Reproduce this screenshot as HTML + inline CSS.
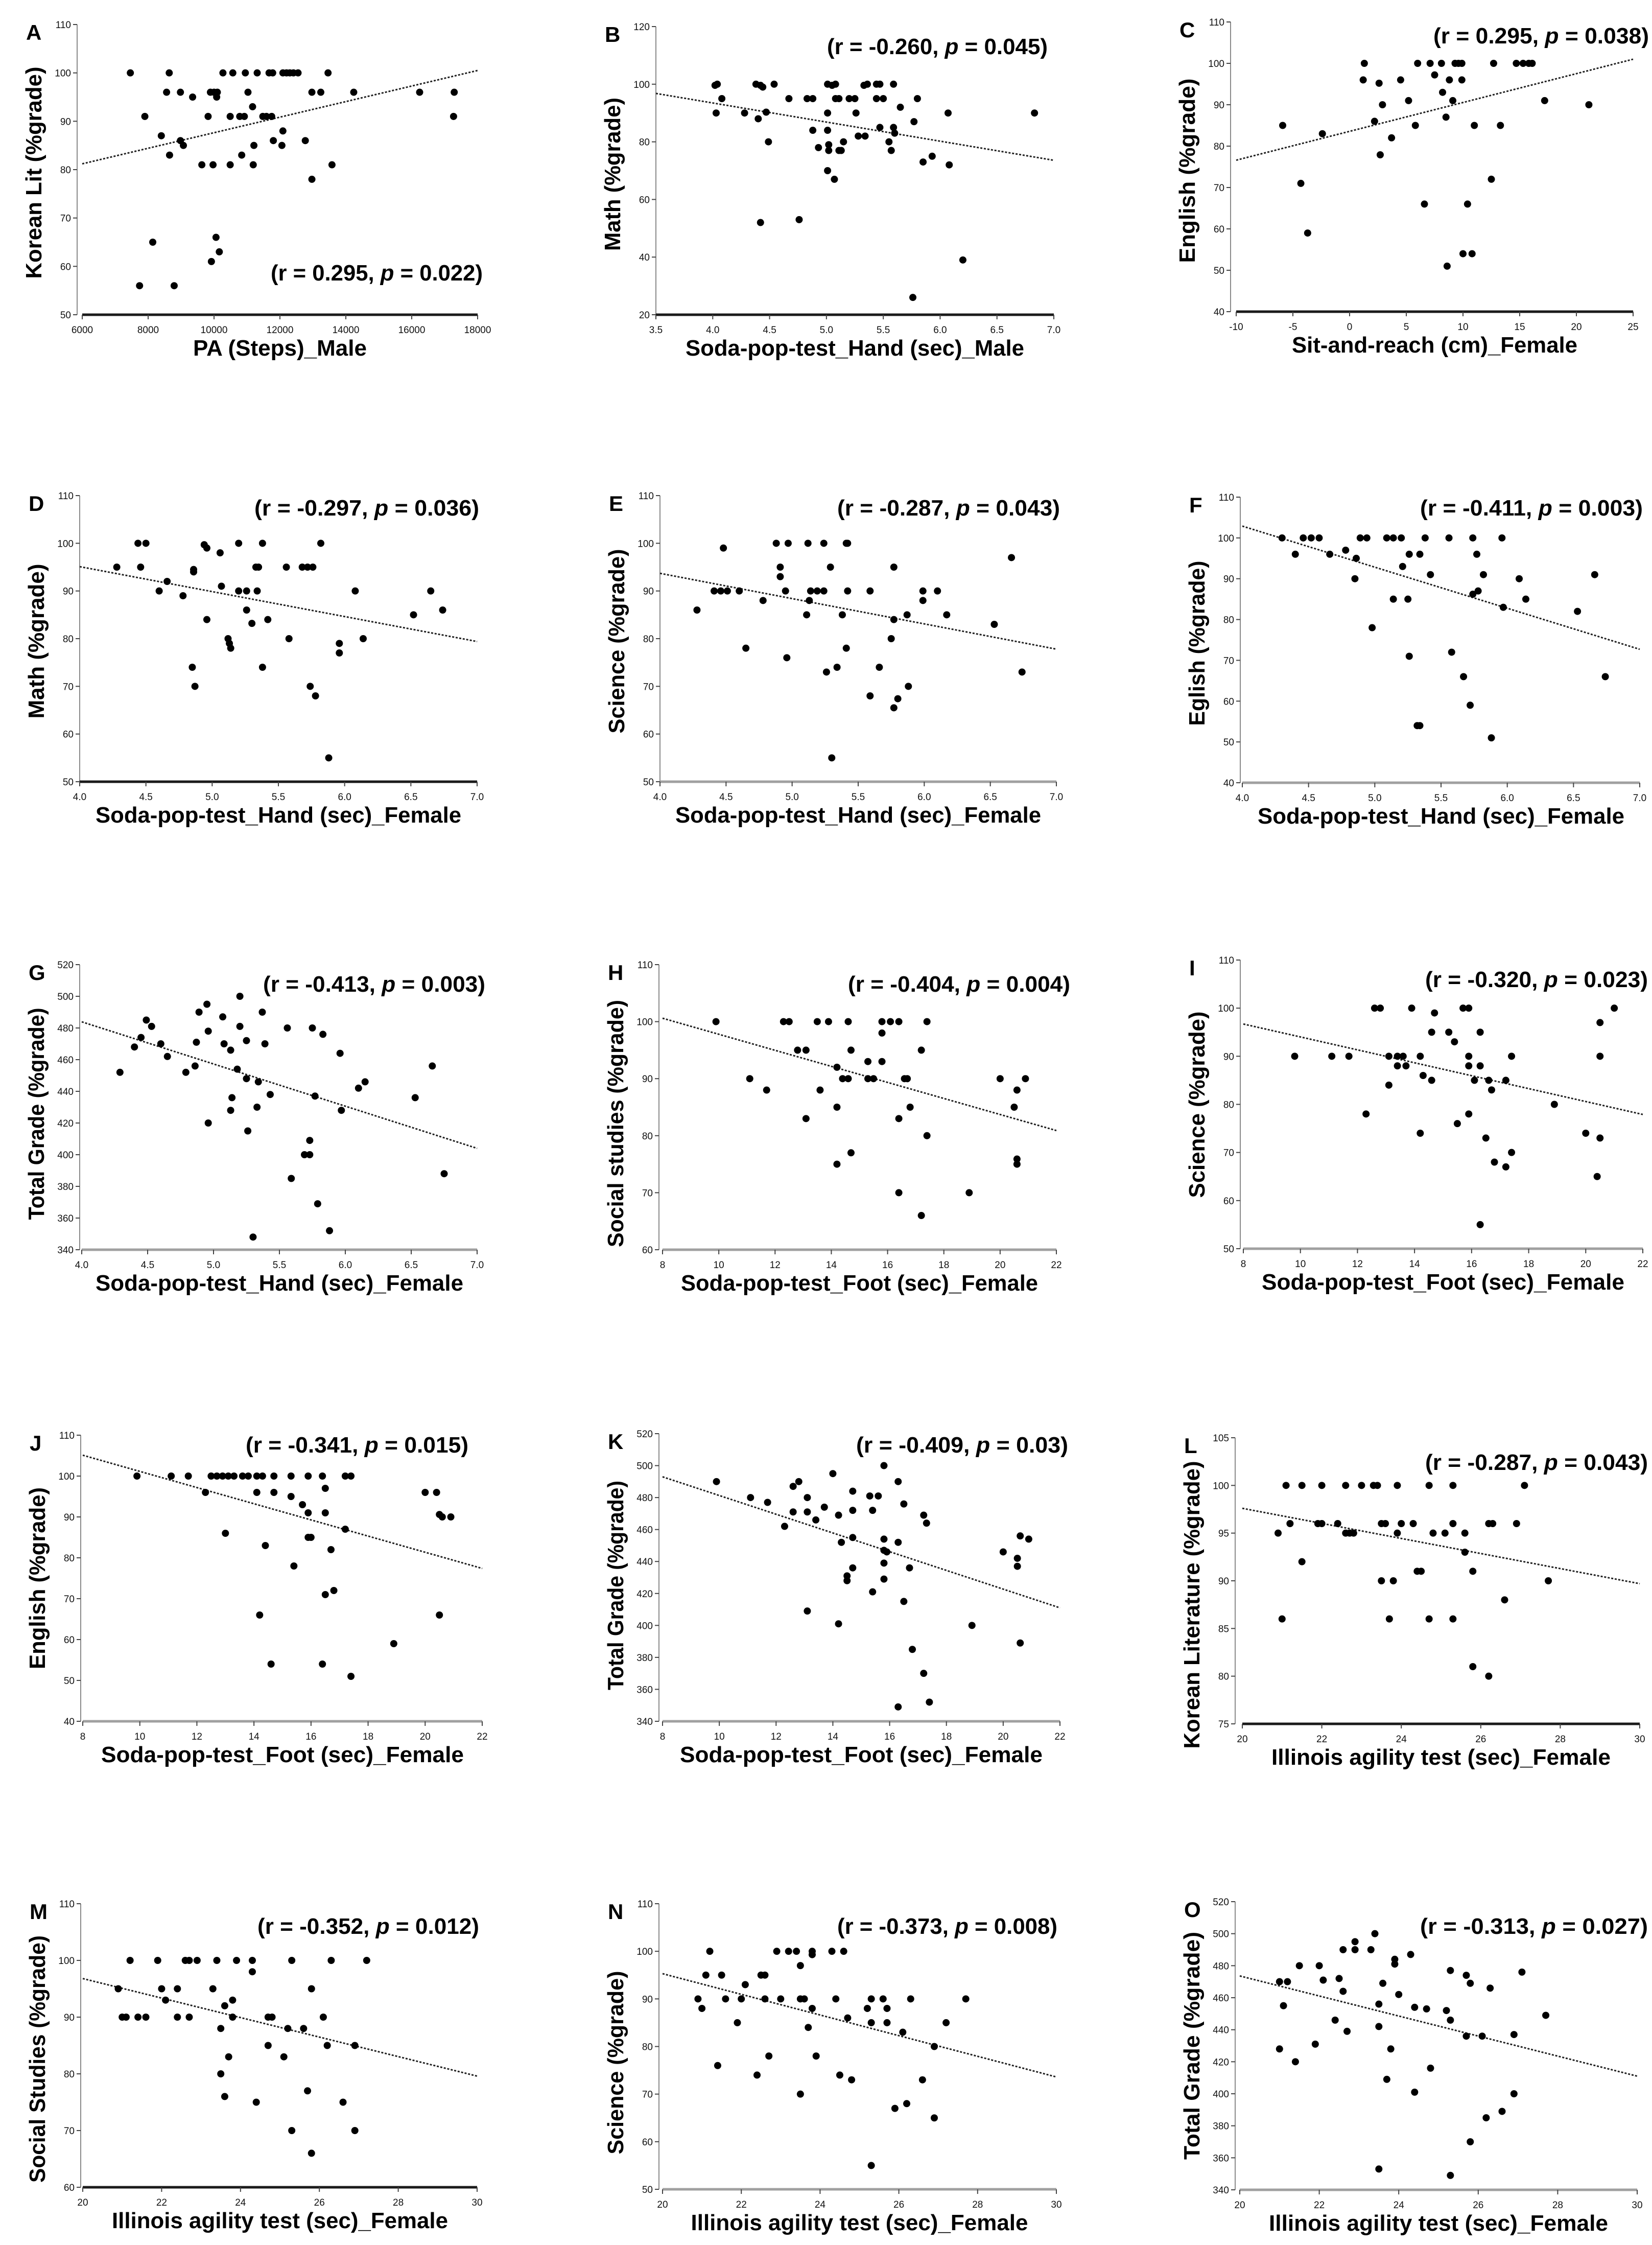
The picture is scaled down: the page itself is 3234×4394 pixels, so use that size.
<!DOCTYPE html>
<html><head><meta charset="utf-8"><style>
html,body{margin:0;padding:0;background:#fff;}
svg{display:block;font-family:"Liberation Sans",sans-serif;}
</style></head><body>
<svg id="fig" xmlns="http://www.w3.org/2000/svg" width="3234" height="4394" viewBox="0 0 3234 4394"></svg>
<script>
// ---------- DATA ----------
const xA=[7460,8640,10270,10570,10950,11310,11670,11780,12090,12200,12300,12410,12550,13460,
8560,8980,9350,9890,10000,10100,10080,11030,12970,13240,14240,16240,17290,17270,11170,
7900,9820,10490,10780,10920,11480,11590,11750,8400,12090,8980,9070,11800,12770,12060,11210,
8650,10840,9630,9970,10490,11190,13580,12970,8140,10060,10160,9920,7740,8790];
const yA=[100,100,100,100,100,100,100,100,100,100,100,100,100,100,
96,96,95,96,96,96,95,96,96,96,96,96,96,91,93,
91,91,91,91,91,91,91,91,87,88,86,85,86,86,85,85,
83,83,81,81,81,81,81,78,65,66,63,61,56,56];
const trendA=[81.2,100.5];

const xB=[4.02,4.04,4.38,4.42,4.44,4.54,4.08,4.03,4.28,4.47,4.40,4.67,4.83,4.88,5.01,5.05,5.08,5.08,5.11,5.20,5.25,5.01,5.26,5.33,5.36,5.44,5.47,5.59,5.44,5.50,5.80,5.65,6.07,6.83,5.77,4.88,5.01,5.47,5.59,5.60,5.28,5.34,4.49,5.02,5.15,5.55,4.93,5.02,5.11,5.13,5.57,5.85,5.93,6.08,5.01,5.07,4.42,4.76,6.20,5.76];
const yB=[99.6,100,100,99.6,99,100,95,90,90,90.3,88,95,95,95,100,99.6,100,95,95,95,95,90,90,99.6,100,100,100,100,95,95,95,92,90,90,87,84,84,85,85,83,82,82,80,79,80,80,78,77,77,77,77,73,75,72,70,67,52,53,39,26];
const trendB=[96.8,73.6];

const xC=[1.3,6.0,7.1,8.1,9.3,9.6,9.9,12.7,14.7,15.3,15.8,16.1,
1.2,2.6,4.5,7.5,8.8,9.9, 8.2,5.2,2.9,9.1,17.2,21.1, -5.9,2.2,5.8,8.5,11.0,13.3,
-2.4,3.7, 2.7, -4.3,12.5, 6.6,10.4, -3.7, 10.0,10.8, 8.6];
const yC=[100,100,100,100,100,100,100,100,100,100,100,100,
96,95.2,96,97.2,96,96, 93,91,90,91,91,90, 85,86,85,87,85,85,
83,82, 77.9, 71,72, 66,66, 59, 54,54, 51];
const trendC=[76.6,101];

const xD=[4.44,4.50,4.94,4.96,5.06,5.20,5.38,5.82, 4.28,4.46,4.86,4.86,5.33,5.35,5.56,5.68,5.72,5.76,
4.66,4.60,4.78,5.07,5.20,5.26,5.34,6.08,6.65, 5.26,6.74,6.52,4.96,5.42,5.30,
5.12,5.13,5.14,5.58,6.14,5.96,5.96, 4.85,5.38,4.87,5.74,5.78,5.88];
const yD=[100,100,99.7,99,98,100,100,100, 95,95,94.5,94,95,95,95,95,95,95,
92,90,89,91,90,90,90,90,90, 86,86,85,84,84,83.2,
80,79,78,80,80,79,77, 74,74,70,70,68,55];
const trendD=[95.1,79.4];

const xE=[4.48,4.88,4.97,5.12,5.24,5.41,5.42, 4.91,4.91,5.29,5.77,
4.41,4.46,4.51,4.60,4.95,5.14,5.19,5.24,5.42,5.59,5.99,6.10, 4.78,5.13,5.99,4.28,
5.11,5.38,5.87,6.17,5.77,6.53,6.66, 5.75,4.65,5.41,4.96, 5.26,5.34,5.66,6.74, 5.88,5.59,5.80,5.77,5.30];
const yE=[99,100,100,100,100,100,100, 95,93,95,95,
90,90,90,90,90,90,90,90,90,90,90,90, 88,88,88,86,
85,85,85,85,84,83,97, 80,78,78,76, 73,74,74,73, 70,68,67.4,65.5,55];
const trendE=[93.7,77.8];

const xF=[4.30,4.46,4.52,4.58,4.89,4.94,5.09,5.14,5.20,5.38,5.56,5.74,5.96,
4.40,4.66,4.78,4.86,5.26,5.34,5.77, 5.21,5.42,5.82,4.85,6.09,6.66,
5.78,5.74,5.14,5.25,6.14,5.97,6.53, 4.98,5.26,5.58,5.67,6.74,5.72,5.32,5.34,5.88];
const yF=[100,100,100,100,100,100,100,100,100,100,100,100,100,
96,96,97,95,96,96,96, 93,91,91,90,90,91,
87,86.2,85,85,85,83,82, 78,71,72,66,66,59,54,54,51];
const trendF=[102.9,72.7];

const xG=[4.29,4.40,4.45,4.49,4.53,4.60,4.65, 4.79,4.86,4.87,4.89,4.95,4.96,4.96,
5.07,5.08,5.13,5.18,5.20,5.20,5.25,5.25,5.26,5.30, 5.34,5.37,5.39,5.43,5.33,5.14,5.13,
5.56,5.75,5.83,5.77,5.96,5.97, 5.73,5.69,5.73,5.59,5.79,5.88, 6.10,6.15,6.53,6.66,6.75];
const yG=[452,468,474,485,481,470,462, 452,456,471,490,495,478,420,
487,470,466,454,481,500,472,448,415,348, 446,490,470,438,430,436,428,
480,480,476,437,464,428, 409,400,400,385,369,352, 442,446,436,456,388];
const trendG=[483.9,404];

const xH=[9.9,12.3,12.5,13.5,13.9,14.6,15.8,16.1,16.4,17.4, 15.8,12.8,13.1,14.7,17.2,15.3,15.8,14.2,
11.1,14.4,14.6,15.3,15.5,16.6,16.7,20.0,20.9, 11.7,13.6,20.6,14.2,16.8,20.5,13.1,16.4,
17.4,14.7,14.2,20.6,20.6,16.4,18.9,17.2];
const yH=[100,100,100,100,100,100,100,100,100,100, 98,95,95,95,95,93,93,92,
90,90,90,90,90,90,90,90,90, 88,88,88,85,85,85,83,83,
80,77,75,75.9,75,70,70,66];
const trendH=[100.6,80.9];

const xI=[12.6,12.8,13.9,15.7,15.9,21.0,14.7,20.5, 14.6,15.2,16.3,15.4,
9.8,11.1,11.7,13.1,13.4,13.6,14.2,15.9,17.4,20.5,
13.4,13.7,15.9,16.3,14.3,14.6,16.1,16.6,17.2,13.1,16.7,
18.9,12.3,15.9,15.5,14.2,20.0,16.5,20.5,17.4, 16.8,17.2,20.4,16.3];
const yI=[100,100,100,100,100,100,99,97, 95,95,95,93,
90,90,90,90,90,90,90,90,90,90,
88,88,88,88,86,85,85,85,85,84,83,
80,78,78,76,74,74,73,73,70, 68,67,65,55];
const trendI=[96.7,77.9];

const xJ=[9.9,11.1,11.7,12.5,12.7,12.9,13.1,13.3,13.6,13.8,14.1,14.3,14.7,15.3,15.9,16.4,17.2,17.4,
12.3,14.1,14.7,16.5,20.0,20.4,15.3,15.7,15.9,16.5,
20.5,20.6,20.9,17.2,13.0,15.9,16.0,14.4,16.7,
15.4,16.5,16.8,14.2,20.5,18.9,14.6,16.4,17.4];
const yJ=[100,100,100,100,100,100,100,100,100,100,100,100,100,100,100,100,100,100,
96,96,96,97,96,96,95,93,91,91,
90.6,90,90,87,86,85,85,83,82,
78,71,72,66,66,59,54,54,51];
const trendJ=[105.1,77.4];

const xK=[9.9,11.1,11.7,12.6,12.8,13.1,12.3,12.6,13.1,13.4,13.7,14.2,14.0,
14.7,14.7,15.3,15.4,15.6,15.8,16.3,16.5,17.2,17.3,
14.3,14.7,15.8,16.3,15.8,15.9,14.7,14.5,14.5,15.8,16.7,15.8,
15.4,16.5,13.1,14.2,18.9,20.0,20.5,20.5,20.6,20.9, 20.6,16.8,17.2,16.3,17.4];
const yK=[490,480,477,487,490,480,462,471,471,466,474,469,495,
484,472,481,472,481,500,490,476,469,464,
452,455,454,452,447,446,436,431,428,439,436,429,
421,415,409,401,400,446,442,437,456,454, 389,385,370,349,352];
const trendK=[493,411];

const xL=[21.1,21.5,22.0,22.6,23.0,23.3,23.4,23.9,24.7,25.3,27.1,
21.2,21.9,22.0,22.4,23.5,23.6,24.0,24.3,25.3,26.2,26.3,26.9,
20.9,22.6,22.7,22.8,23.9,24.8,25.1,25.6,
25.6,21.5,24.4,24.5,25.8,23.5,23.8,27.7,26.6, 21.0,23.7,24.7,25.3,25.8,26.2];
const yL=[100,100,100,100,100,100,100,100,100,100,100,
96,96,96,96,96,96,96,96,96,96,96,96,
95,95,95,95,95,95,95,95,
93,92,91,91,91,90,90,90,88, 86,86,86,86,81,80];
const trendL=[97.6,89.7];

const xM=[21.2,21.9,22.6,22.7,22.9,23.4,23.9,24.3,25.3,26.3,27.2,
24.3,20.9,22.0,22.4,23.3,25.8,22.1,23.8,23.6,
21.0,21.1,21.4,21.6,22.4,22.7,23.8,24.7,24.8,26.1,
23.5,25.2,25.6,24.7,26.2,26.9,23.7,25.1,23.5,25.7, 23.6,24.4,26.6,25.3,26.9,25.8];
const yM=[100,100,100,100,100,100,100,100,100,100,100,
98,95,95,95,95,95,93,93,92,
90,90,90,90,90,90,90,90,90,90,
88,88,88,85,85,85,83,83,80,77, 76,75,75,70,70,66];
const trendM=[96.8,79.6];

const xN=[21.2,22.9,23.2,23.4,23.8,23.8,24.3,24.6,23.5, 21.1,21.5,22.5,22.6,22.1,
20.9,21.6,22.0,22.6,23.0,23.5,23.6,24.4,25.3,25.6,26.3,27.7,
21.0,23.8,25.2,25.7,24.7,21.9,25.3,25.7,27.2,23.7,26.1,
26.9,22.7,23.9,21.4,22.4,24.5,24.8,26.6, 23.5,26.2,25.9,26.9,25.3];
const yN=[100,100,100,100,99.3,100,100,100,97, 95,95,95,95,93,
90,90,90,90,90,90,90,90,90,90,90,90,
88,88,88,88,86,85,85,85,85,84,83,
80,78,78,76,74,74,73,73, 70,68,67,65,55];
const trendN=[95.3,73.6];

const xO=[23.4,22.9,22.6,22.9,23.3,24.3,21.5,22.0,23.9,23.9,
25.3,27.1,25.7,25.8,26.3,21.0,21.2,22.1,22.5,23.6,
22.6,24.0,21.1,23.5,24.4,24.7,25.2,22.4,23.5,25.3,
22.7,25.7,26.1,26.9,27.7,21.0,21.9,23.8,21.4,24.8,
23.7,24.4,26.9,26.2,26.6,25.8,23.5,25.3];
const yO=[500,495,490,490,490,487,480,480,484,481,
477,476,474,469,466,470,470,471,472,469,
464,462,455,456,454,453,452,446,442,446,
439,436,436,437,449,428,431,428,420,416,
409,401,400,385,389,370,353,349];
const trendO=[473.6,411];

// tick label arrays
const ticksA_x=[6000,8000,10000,12000,14000,16000,18000];
const ticksA_y=[50,60,70,80,90,100,110];
const ticksB_x=["3.5","4.0","4.5","5.0","5.5","6.0","6.5","7.0"];
const ticksB_y=[20,40,60,80,100,120];
const ticksC_x=[-10,-5,0,5,10,15,20,25];
const ticksC_y=[40,50,60,70,80,90,100,110];
const ticksHand_x=["4.0","4.5","5.0","5.5","6.0","6.5","7.0"];
const ticksFoot_x=[8,10,12,14,16,18,20,22];
const ticksAgil_x=[20,22,24,26,28,30];
const ticks50_110=[50,60,70,80,90,100,110];
const ticks40_110=[40,50,60,70,80,90,100,110];
const ticks60_110=[60,70,80,90,100,110];
const ticksTotal=[340,360,380,400,420,440,460,480,500,520];
const ticksL_y=[75,80,85,90,95,100,105];

// ---------- LAYOUT ----------
const panels=[
 {id:'A',xs:xA,ys:yA,tr:trendA,xt:ticksA_x,yt:ticksA_y,x0:161,x1:935,yT:48,yB:616,ax:151,dark:1,ytc:338,
  xTitle:'PA (Steps)_Male',xw:340,yTitle:'Korean Lit (%grade)',yw:415,ann:['0.295','0.022'],aR:945,aY:534,aW:415},
 {id:'B',xs:xB,ys:yB,tr:trendB,xt:ticksB_x,yt:ticksB_y,x0:1284,x1:2063,yT:52,yB:616,ax:1284,dark:1,ytc:341,
  xTitle:'Soda-pop-test_Hand (sec)_Male',xw:663,yTitle:'Math (%grade)',yw:300,ann:['-0.260','0.045'],aR:2051,aY:91,aW:432},
 {id:'C',xs:xC,ys:yC,tr:trendC,xt:ticksC_x,yt:ticksC_y,x0:2420,x1:3197,yT:43,yB:610,ax:2409,dark:1,ytc:334,
  xTitle:'Sit-and-reach (cm)_Female',xw:559,yTitle:'English (%grade)',yw:361,ann:['0.295','0.038'],aR:3228,aY:70,aW:422},
 {id:'D',xs:xD,ys:yD,tr:trendD,xt:ticksHand_x,yt:ticks50_110,x0:156,x1:934,yT:970,yB:1530,ax:156,dark:1,ytc:1255,
  xTitle:'Soda-pop-test_Hand (sec)_Female',xw:716,yTitle:'Math (%grade)',yw:303,ann:['-0.297','0.036'],aR:938,aY:994,aW:440},
 {id:'E',xs:xE,ys:yE,tr:trendE,xt:ticksHand_x,yt:ticks50_110,x0:1292,x1:2068,yT:970,yB:1530,ax:1292,dark:0,ytc:1255,
  xTitle:'Soda-pop-test_Hand (sec)_Female',xw:716,yTitle:'Science (%grade)',yw:361,ann:['-0.287','0.043'],aR:2075,aY:994,aW:436},
 {id:'F',xs:xF,ys:yF,tr:trendF,xt:ticksHand_x,yt:ticks40_110,x0:2432,x1:3210,yT:973,yB:1532,ax:2428,dark:0,ytc:1259,
  xTitle:'Soda-pop-test_Hand (sec)_Female',xw:718,yTitle:'Eglish (%grade)',yw:323,ann:['-0.411','0.003'],aR:3216,aY:994,aW:436},
 {id:'G',xs:xG,ys:yG,tr:trendG,xt:ticksHand_x,yt:ticksTotal,x0:160,x1:934,yT:1888,yB:2446,ax:156,dark:0,ytc:2180,
  xTitle:'Soda-pop-test_Hand (sec)_Female',xw:720,yTitle:'Total Grade (%grade)',yw:415,ann:['-0.413','0.003'],aR:950,aY:1926,aW:435},
 {id:'H',xs:xH,ys:yH,tr:trendH,xt:ticksFoot_x,yt:ticks60_110,x0:1297,x1:2068,yT:1888,yB:2446,ax:1290,dark:0,ytc:2199,
  xTitle:'Soda-pop-test_Foot (sec)_Female',xw:699,yTitle:'Social studies (%grade)',yw:484,ann:['-0.404','0.004'],aR:2095,aY:1926,aW:435},
 {id:'I',xs:xI,ys:yI,tr:trendI,xt:ticksFoot_x,yt:ticks50_110,x0:2434,x1:3216,yT:1879,yB:2444,ax:2428,dark:0,ytc:2162,
  xTitle:'Soda-pop-test_Foot (sec)_Female',xw:710,yTitle:'Science (%grade)',yw:365,ann:['-0.320','0.023'],aR:3226,aY:1917,aW:436},
 {id:'J',xs:xJ,ys:yJ,tr:trendJ,xt:ticksFoot_x,yt:ticks40_110,x0:162,x1:944,yT:2809,yB:3369,ax:158,dark:0,ytc:3089,
  xTitle:'Soda-pop-test_Foot (sec)_Female',xw:710,yTitle:'English (%grade)',yw:356,ann:['-0.341','0.015'],aR:917,aY:2828,aW:436},
 {id:'K',xs:xK,ys:yK,tr:trendK,xt:ticksFoot_x,yt:ticksTotal,x0:1297,x1:2075,yT:2806,yB:3369,ax:1290,dark:0,ytc:3103,
  xTitle:'Soda-pop-test_Foot (sec)_Female',xw:710,yTitle:'Total Grade (%grade)',yw:410,ann:['-0.409','0.03'],aR:2091,aY:2828,aW:415},
 {id:'L',xs:xL,ys:yL,tr:trendL,xt:ticksAgil_x,yt:ticksL_y,x0:2432,x1:3210,yT:2814,yB:3374,ax:2418,dark:1,ytc:3141,
  xTitle:'Illinois agility test (sec)_Female',xw:664,yTitle:'Korean Literature (%grade)',yw:563,ann:['-0.287','0.043'],aR:3226,aY:2862,aW:436},
 {id:'M',xs:xM,ys:yM,tr:trendM,xt:ticksAgil_x,yt:ticks60_110,x0:162,x1:934,yT:3726,yB:4281,ax:158,dark:1,ytc:4030,
  xTitle:'Illinois agility test (sec)_Female',xw:658,yTitle:'Social Studies (%grade)',yw:484,ann:['-0.352','0.012'],aR:938,aY:3770,aW:434},
 {id:'N',xs:xN,ys:yN,tr:trendN,xt:ticksAgil_x,yt:ticks50_110,x0:1297,x1:2068,yT:3726,yB:4285,ax:1290,dark:0,ytc:4037,
  xTitle:'Illinois agility test (sec)_Female',xw:660,yTitle:'Science (%grade)',yw:359,ann:['-0.373','0.008'],aR:2070,aY:3770,aW:431},
 {id:'O',xs:xO,ys:yO,tr:trendO,xt:ticksAgil_x,yt:ticksTotal,x0:2427,x1:3205,yT:3722,yB:4286,ax:2418,dark:0,ytc:4004,
  xTitle:'Illinois agility test (sec)_Female',xw:664,yTitle:'Total Grade (%grade)',yw:446,ann:['-0.313','0.027'],aR:3226,aY:3770,aW:446}
];

const NS='http://www.w3.org/2000/svg';
const svg=document.getElementById('fig');
function mk(tag,attrs,parent){const e=document.createElementNS(NS,tag);for(const k in attrs)e.setAttribute(k,attrs[k]);parent.appendChild(e);return e;}

panels.forEach(p=>{
  const xn=p.xt.map(Number), yn=p.yt.map(Number);
  const xmin=xn[0], xmax=xn[xn.length-1], ymin=yn[0], ymax=yn[yn.length-1];
  const sx=v=>p.x0+(v-xmin)/(xmax-xmin)*(p.x1-p.x0);
  const sy=v=>p.yB-(v-ymin)/(ymax-ymin)*(p.yB-p.yT);
  const g=mk('g',{},svg);
  
  

  const ya=mk('line',{x1:p.ax,y1:p.yT,x2:p.ax,y2:p.yB,stroke:'#8a8a8a','stroke-width':2},g);
  
  
  p.yt.forEach(t=>{
    const y=sy(Number(t));
    const tk=mk('line',{x1:p.ax-8,y1:y,x2:p.ax,y2:y,stroke:'#444','stroke-width':2},g);
    
    
    const tl=mk('text',{x:p.ax-12,y:y+7,'text-anchor':'end','font-size':19,fill:'#111'},g);
    tl.textContent=t;
    
    
  });
  const xa=mk('line',{x1:p.x0,y1:p.yB,x2:p.x1,y2:p.yB,stroke:p.dark?'#1a1a1a':'#a0a0a0','stroke-width':5},g);
  
  
  p.xt.forEach(t=>{
    const x=sx(Number(t));
    const tk=mk('line',{x1:x,y1:p.yB,x2:x,y2:p.yB+9,stroke:'#444','stroke-width':2},g);
    
    
    const tl=mk('text',{x:x,y:p.yB+36,'text-anchor':'middle','font-size':19,fill:'#111'},g);
    tl.textContent=t;
    
    
  });
  const tl=mk('line',{x1:sx(xmin),y1:sy(p.tr[0]),x2:sx(xmax),y2:sy(p.tr[1]),stroke:'#222','stroke-width':3,'stroke-dasharray':'4 3'},g);
  
  
  p.xs.forEach((xv,i)=>{
    const c=mk('ellipse',{cx:sx(xv),cy:sy(p.ys[i]),rx:7,ry:7,fill:'#000'},g);
    
    
  });
  const L=mk('text',{x:p.ax-100,y:p.yT+30,'font-size':42,'font-weight':'bold',fill:'#000'},g);
  L.textContent=p.id;
  
  
  const xtt=mk('text',{x:(p.x0+p.x1)/2,y:p.yB+80,'text-anchor':'middle','font-size':44,'font-weight':'bold',fill:'#000',textLength:p.xw,lengthAdjust:'spacingAndGlyphs'},g);
  xtt.textContent=p.xTitle;
  
  
  const cy=p.ytc, cx=p.ax-70;
  const ytt=mk('text',{x:cx,y:cy,'text-anchor':'middle','font-size':44,'font-weight':'bold',fill:'#000',transform:`rotate(-90 ${cx} ${cy})`,textLength:p.yw,lengthAdjust:'spacingAndGlyphs'},g);
  ytt.textContent=p.yTitle;
  
  
  const an=mk('text',{x:p.aR-p.aW,y:p.aY+15,'font-size':44,'font-weight':'bold',fill:'#000',textLength:p.aW,lengthAdjust:'spacingAndGlyphs'},g);
  
  
  const s1=mk('tspan',{},an); s1.textContent='(r = '+p.ann[0]+', ';
  const s2=mk('tspan',{'font-style':'italic'},an); s2.textContent='p';
  const s3=mk('tspan',{},an); s3.textContent=' = '+p.ann[1]+')';
});
</script>
</body></html>
